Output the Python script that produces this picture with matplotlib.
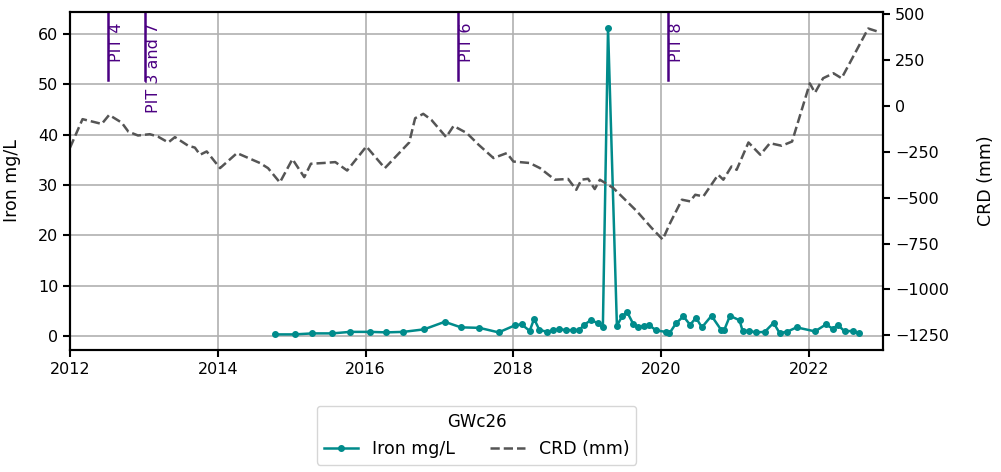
import matplotlib
matplotlib.use("Agg")
import matplotlib.pyplot as plt
import matplotlib.transforms as mtransforms

# CRD (mm)
crd_year = [2012.00, 2012.17, 2012.43, 2012.53, 2012.70, 2012.79, 2012.92, 2013.08, 2013.19,
            2013.33, 2013.42, 2013.60, 2013.69, 2013.76, 2013.85, 2014.03, 2014.26, 2014.57,
            2014.68, 2014.84, 2015.01, 2015.17, 2015.26, 2015.43, 2015.59, 2015.75, 2016.01,
            2016.26, 2016.59, 2016.67, 2016.78, 2016.89, 2017.09, 2017.19, 2017.37, 2017.53,
            2017.73, 2017.91, 2018.00, 2018.22, 2018.36, 2018.56, 2018.74, 2018.85, 2018.92,
            2019.01, 2019.10, 2019.17, 2019.35, 2019.67, 2019.87, 2020.02, 2020.12, 2020.28,
            2020.39, 2020.46, 2020.57, 2020.77, 2020.84, 2020.95, 2021.02, 2021.18, 2021.34,
            2021.47, 2021.63, 2021.77, 2022.01, 2022.08, 2022.19, 2022.33, 2022.44, 2022.80,
            2022.94]
crd_mm = [-228, -72, -98, -49, -91, -140, -161, -154, -167,
          -199, -170, -217, -227, -266, -248, -339, -257, -311,
          -339, -417, -290, -388, -315, -311, -306, -352, -221,
          -339, -199, -67, -43, -76, -170, -109, -148, -212,
          -284, -257, -303, -311, -339, -402, -398, -457, -402,
          -397, -453, -402, -447, -574, -665, -728, -638, -511,
          -520, -484, -493, -375, -402, -330, -348, -199, -266,
          -203, -217, -194, 123, 72, 151, 178, 151, 422,
          404]

# Iron mg/L for GWc26
iron_year = [2014.77, 2015.04, 2015.28, 2015.55, 2015.79, 2016.06, 2016.28, 2016.51, 2016.79,
             2017.07, 2017.29, 2017.54, 2017.80, 2018.02, 2018.11, 2018.22, 2018.28, 2018.35,
             2018.46, 2018.53, 2018.61, 2018.71, 2018.81, 2018.89, 2018.96, 2019.05, 2019.14,
             2019.21, 2019.28, 2019.40, 2019.47, 2019.54, 2019.62, 2019.69, 2019.77, 2019.84,
             2019.93, 2020.06, 2020.11, 2020.20, 2020.30, 2020.39, 2020.47, 2020.55, 2020.68,
             2020.81, 2020.85, 2020.93, 2021.06, 2021.10, 2021.19, 2021.28, 2021.40, 2021.52,
             2021.60, 2021.70, 2021.83, 2022.08, 2022.23, 2022.32, 2022.39, 2022.48, 2022.59,
             2022.68]
iron_mg = [0.3, 0.3, 0.5, 0.5, 0.8, 0.8, 0.7, 0.8, 1.3,
           2.8, 1.7, 1.6, 0.7, 2.1, 2.3, 1.0, 3.4, 1.2,
           0.8, 1.1, 1.3, 1.2, 1.1, 1.2, 2.2, 3.2, 2.5,
           1.7, 61.2, 2.0, 3.9, 4.7, 2.4, 1.7, 2.0, 2.1,
           1.1, 0.8, 0.5, 2.5, 3.9, 2.2, 3.6, 1.7, 4.0,
           1.2, 1.1, 4.0, 3.1, 1.0, 1.0, 0.7, 0.8, 2.6,
           0.6, 0.8, 1.7, 0.9, 2.3, 1.4, 2.2, 0.9, 1.0,
           0.5]

# pit events
pit_year = [2012.51, 2013.01, 2017.25, 2020.09]
pit_label = ["PIT 4", "PIT 3 and 7", "PIT 6", "PIT 8"]

plt.rcParams["font.size"] = 11.5
plt.rcParams["axes.linewidth"] = 1.5

fig = plt.figure(figsize=(10.01, 4.72), dpi=100)
ax1 = fig.add_axes([0.0699, 0.2585, 0.8122, 0.7161])
ax2 = ax1.twinx()

l1, = ax1.plot(iron_year, iron_mg, color="darkcyan", marker="o", markersize=4,
               linewidth=1.8, label="Iron mg/L")
l2, = ax2.plot(crd_year, crd_mm, color="#555555", linestyle="--", linewidth=1.8,
               label="CRD (mm)")

trans = mtransforms.blended_transform_factory(ax1.transData, ax1.transAxes)
for yr, lab in zip(pit_year, pit_label):
    ax1.axvline(yr, ymin=0.8, ymax=1.0, color="indigo", linewidth=1.8)
    ax1.text(yr + 0.02, 0.968, lab, transform=trans, rotation=90, va="top", ha="left",
             color="indigo", fontsize=11.5)

ax1.set_xlim(2012, 2023)
ax1.set_xticks([2012, 2014, 2016, 2018, 2020, 2022])
ax1.set_ylim(-2.8, 64.4)
ax1.set_yticks([0, 10, 20, 30, 40, 50, 60])
ax2.set_ylim(-1330, 512)
ax2.set_yticks([-1250, -1000, -750, -500, -250, 0, 250, 500])
ax1.grid(True, color="#b0b0b0", linewidth=1.2)
ax1.set_ylabel("Iron mg/L", fontsize=12.5, labelpad=12)
ax2.set_ylabel("CRD (mm)", fontsize=12.5, labelpad=20)
for ax in (ax1, ax2):
    ax.tick_params(width=1.5, length=5)

ax2.legend(handles=[l1, l2], title="GWc26", ncol=2, loc="upper center",
           bbox_to_anchor=(0.5, -0.14), frameon=True, columnspacing=2.0,
           fontsize=12.5, title_fontsize=12)

fig.savefig("out.png", dpi=100)
